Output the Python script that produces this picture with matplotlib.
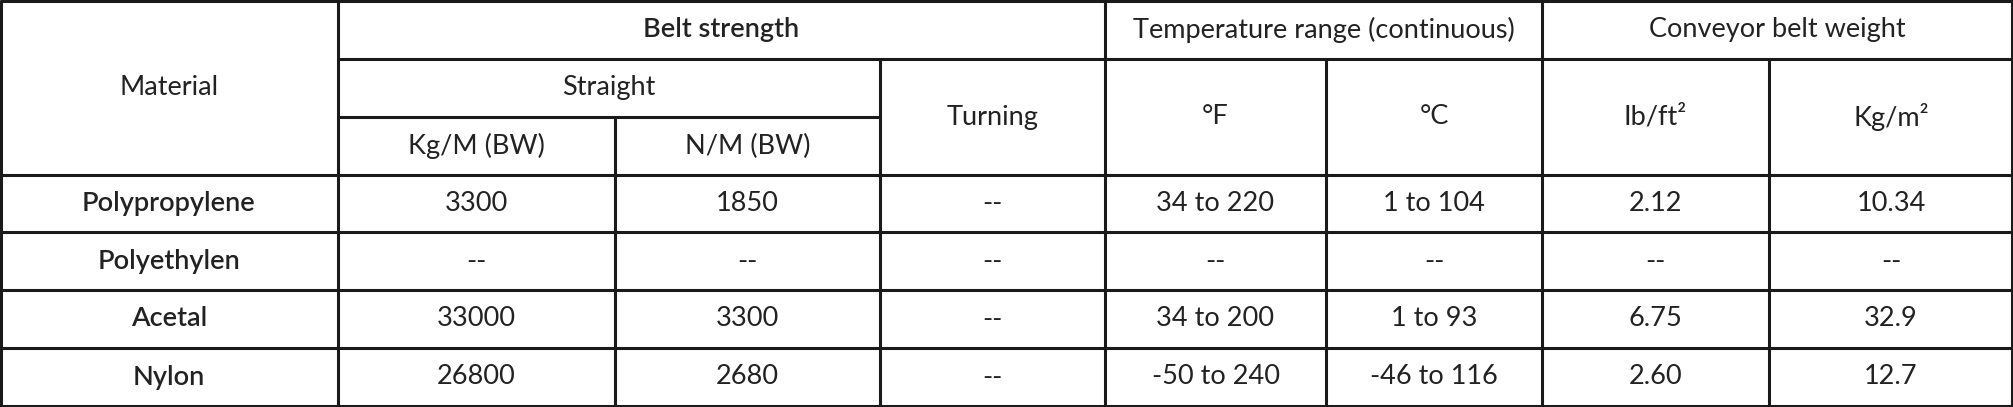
import matplotlib.pyplot as plt

materials = ["Polypropylene", "Polyethylen", "Acetal", "Nylon"]
kg_m = ["3300", "--", "33000", "26800"]
n_m = ["1850", "--", "3300", "2680"]
turning = ["--", "--", "--", "--"]
temp_f = ["34 to 220", "--", "34 to 200", "-50 to 240"]
temp_c = ["1 to 104", "--", "1 to 93", "-46 to 116"]
lb_ft2 = ["2.12", "--", "6.75", "2.60"]
kg_m2 = ["10.34", "--", "32.9", "12.7"]

# layout in pixels
xs = [0, 338, 615, 880, 1105, 1326, 1542, 1769, 2013]
ys = [0, 59, 117, 175, 232, 290, 348, 406]
W, H = 2013, 407

plt.rcParams['font.family'] = ['Lato', 'DejaVu Sans']
fig = plt.figure(figsize=(W / 100, H / 100), dpi=100)
ax = fig.add_axes([0, 0, 1, 1])
ax.set_xlim(0, W)
ax.set_ylim(H, 0)
ax.axis("off")

lc = "#1a1a1a"
lw = 2.2
tc = "#222222"
fs = 19.5


def hline(y, x0, x1):
    ax.plot([x0, x1], [y, y], color=lc, lw=lw, solid_capstyle="butt")


def vline(x, y0, y1):
    ax.plot([x, x], [y0, y1], color=lc, lw=lw, solid_capstyle="butt")


def txt(x0, x1, y0, y1, s, bold=False):
    ax.text((x0 + x1) / 2, (y0 + y1) / 2, s, ha="center", va="center",
            fontsize=fs, color=tc, fontweight="semibold" if bold else "normal")


# outer frame
hline(1, 0, W)
hline(ys[-1], 0, W)
vline(1, 0, H)
vline(W - 1, 0, H)

# header lines
hline(ys[1], xs[1], W)
hline(ys[2], xs[1], xs[3])
hline(ys[3], 0, W)
for x in [xs[1], xs[4], xs[6]]:
    vline(x, 0, H)
for x in [xs[3], xs[5], xs[7]]:
    vline(x, ys[1], H)
vline(xs[2], ys[2], H)
for y in ys[4:-1]:
    hline(y, 0, W)

# header text
txt(xs[0], xs[1], ys[0], ys[3], "Material")
txt(xs[1], xs[4], ys[0], ys[1], "Belt strength", bold=True)
txt(xs[4], xs[6], ys[0], ys[1], "Temperature range (continuous)")
txt(xs[6], xs[8], ys[0], ys[1], "Conveyor belt weight")
txt(xs[1], xs[3], ys[1], ys[2], "Straight")
txt(xs[3], xs[4], ys[1], ys[3], "Turning")
txt(xs[1], xs[2], ys[2], ys[3], "Kg/M (BW)")
txt(xs[2], xs[3], ys[2], ys[3], "N/M (BW)")
txt(xs[4], xs[5], ys[1], ys[3], "°F")
txt(xs[5], xs[6], ys[1], ys[3], "°C")
txt(xs[6], xs[7], ys[1], ys[3], "Ib/ft²")
txt(xs[7], xs[8], ys[1], ys[3], "Kg/m²")

cols = [materials, kg_m, n_m, turning, temp_f, temp_c, lb_ft2, kg_m2]
for i in range(len(materials)):
    y0, y1 = ys[3 + i], ys[4 + i]
    for j, col in enumerate(cols):
        txt(xs[j], xs[j + 1], y0, y1, col[i], bold=(j == 0))

fig.savefig("out.png", dpi=100)
